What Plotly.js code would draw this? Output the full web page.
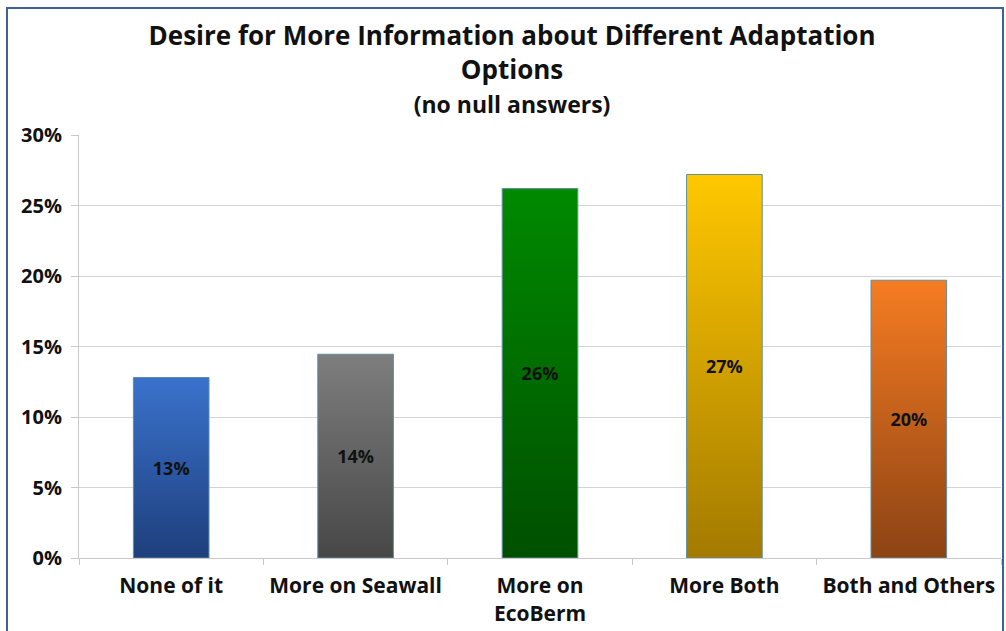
<!DOCTYPE html>
<html>
<head>
<meta charset="utf-8">
<script src="https://cdn.plot.ly/plotly-3.0.1.min.js"></script>
<style>
html,body{margin:0;padding:0;background:#fff;}
#wrap{position:relative;width:1006px;height:631px;}
#chart{width:1006px;height:631px;}
#frame{position:absolute;left:6px;top:7px;width:994px;height:640px;border:2px solid #3d6199;pointer-events:none;}
</style>
</head>
<body>
<div id="wrap"><div id="chart"></div><div id="frame"></div></div>
<script>
const categories = ["None of it", "More on Seawall", "More on<br>EcoBerm", "More Both", "Both and Others"];
const values = [0.128, 0.1445, 0.262, 0.272, 0.197];
const valueLabels = ["13%", "14%", "26%", "27%", "20%"];
const yTicks = [0, 0.05, 0.10, 0.15, 0.20, 0.25, 0.30];
const yTickLabels = ["0%", "5%", "10%", "15%", "20%", "25%", "30%"];
const topColors = ["#3a72cc", "#7e7e7e", "#008a00", "#ffc800", "#f67c22"];
const bottomColors = ["#1e3f7c", "#474747", "#004f00", "#a37a00", "#8c4314"];

const FONT = "'Open Sans', Lato, sans-serif";

const trace = {
  type: "bar",
  x: categories,
  y: values,
  text: valueLabels,
  textposition: "inside",
  insidetextanchor: "middle",
  textangle: 0,
  textfont: {family: FONT, size: 18, color: "#111", weight: "bold"},
  marker: {color: topColors, line: {color: "#5e8e9e", width: 1}},
  width: 0.41,
  hoverinfo: "none"
};

const layout = {
  width: 1006,
  height: 631,
  margin: {l: 79, r: 5, t: 135, b: 73},
  paper_bgcolor: "#fff",
  plot_bgcolor: "#fff",
  showlegend: false,
  title: {
    text: "Desire for More Information about Different Adaptation<br>Options<br><span style='font-size:23px'>(no null answers)</span>",
    font: {family: FONT, size: 26, color: "#111", weight: "bold"},
    x: 0.509, xref: "container", xanchor: "center",
    y: 1 - 45/631, yref: "container", yanchor: "top"
  },
  xaxis: {
    type: "category",
    showgrid: false,
    showline: true, linecolor: "#c8c8c8", linewidth: 1,
    ticks: "outside", tickson: "boundaries", ticklen: 6, tickcolor: "#c8c8c8",
    tickfont: {family: FONT, size: 21, color: "#111", weight: "bold"},
    ticklabelstandoff: 9,
    fixedrange: true
  },
  yaxis: {
    range: [0, 0.30],
    tickvals: yTicks, ticktext: yTickLabels,
    showgrid: true, gridcolor: "#d4d4d4", gridwidth: 1,
    showline: true, linecolor: "#c8c8c8", linewidth: 1,
    ticks: "outside", ticklen: 7, tickcolor: "#c8c8c8",
    tickfont: {family: FONT, size: 20, color: "#111", weight: "bold"},
    ticklabelstandoff: 5,
    zeroline: false,
    fixedrange: true
  },
  bargap: 0.59
};

function applyGradients(gd) {
  const svg = gd.querySelector("svg.main-svg");
  if (!svg) return;
  let defs = svg.querySelector("defs");
  if (!defs) { defs = document.createElementNS("http://www.w3.org/2000/svg", "defs"); svg.insertBefore(defs, svg.firstChild); }
  topColors.forEach((c, i) => {
    const id = "barGrad" + i;
    if (defs.querySelector("#" + id)) return;
    const lg = document.createElementNS("http://www.w3.org/2000/svg", "linearGradient");
    lg.setAttribute("id", id);
    lg.setAttribute("x1", "0"); lg.setAttribute("y1", "0");
    lg.setAttribute("x2", "0"); lg.setAttribute("y2", "1");
    [["0", c], ["1", bottomColors[i]]].forEach(([o, col]) => {
      const s = document.createElementNS("http://www.w3.org/2000/svg", "stop");
      s.setAttribute("offset", o); s.setAttribute("stop-color", col);
      lg.appendChild(s);
    });
    defs.appendChild(lg);
  });
  gd.querySelectorAll(".barlayer .point path").forEach((p, i) => {
    p.style.fill = "url(#barGrad" + i + ")";
  });
}

Plotly.newPlot("chart", [trace], layout, {displayModeBar: false, staticPlot: true}).then(gd => {
  applyGradients(gd);
  gd.on("plotly_afterplot", () => applyGradients(gd));
});
</script>
</body>
</html>
